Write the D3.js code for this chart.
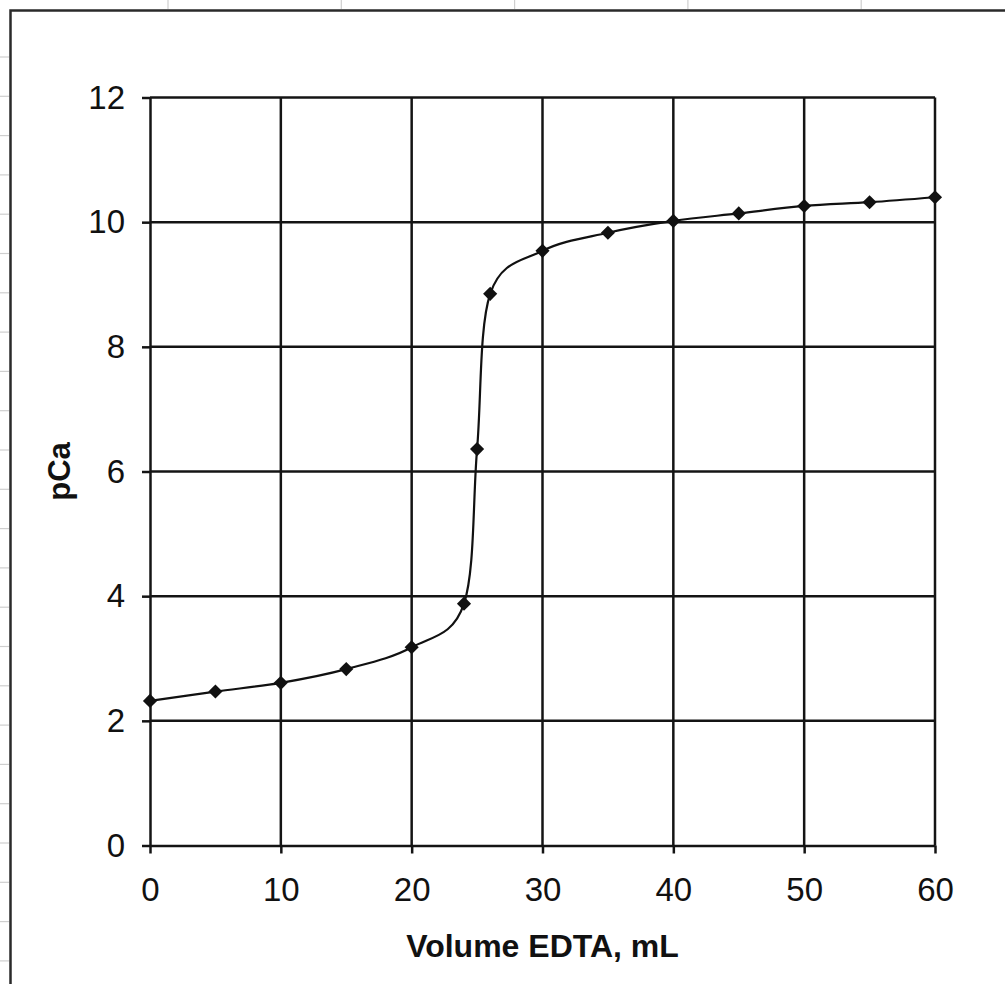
<!DOCTYPE html>
<html>
<head>
<meta charset="utf-8">
<script src="https://cdn.jsdelivr.net/npm/d3@7"></script>
<style>
  html, body { margin: 0; padding: 0; background: #fff; }
  svg { display: block; }
</style>
</head>
<body>
<svg id="chart" width="1005" height="984"></svg>
<script>
// ---- data ----
const volumeEDTA = [0, 5, 10, 15, 20, 24, 25, 26, 30, 35, 40, 45, 50, 55, 60];
const pCaValues  = [2.32, 2.47, 2.61, 2.83, 3.18, 3.88, 6.36, 8.85, 9.54, 9.83, 10.02, 10.14, 10.26, 10.32, 10.40];
const xTickValues = [0, 10, 20, 30, 40, 50, 60];
const yTickValues = [0, 2, 4, 6, 8, 10, 12];
const xTitle = "Volume EDTA, mL";
const yTitle = "pCa";

const W = 1005, H = 984;
const svg = d3.select("#chart");
const font = "'Liberation Sans', Arial, Helvetica, sans-serif";

// ---- spreadsheet background outside the chart ----
const sheet = svg.append("g").attr("stroke", "#cfcfcf").attr("stroke-width", 1.2);
d3.range(0, 6).forEach(i => {
  const x = 168 + i * 173.3;
  sheet.append("line").attr("x1", x).attr("x2", x).attr("y1", 0).attr("y2", 9);
});
d3.range(0, 24).forEach(i => {
  const y = 57 + i * 39.3;
  sheet.append("line").attr("x1", 0).attr("x2", 9).attr("y1", y).attr("y2", y);
});

// chart area border
svg.append("rect")
  .attr("x", 10.5).attr("y", 10.5)
  .attr("width", W + 20).attr("height", H + 20)
  .attr("fill", "#fff")
  .attr("stroke", "#2a2a2a").attr("stroke-width", 2.5);

// ---- scales ----
const plot = { left: 150, right: 935, top: 97.5, bottom: 845.5 };
const x = d3.scaleLinear().domain([0, 60]).range([plot.left, plot.right]);
const y = d3.scaleLinear().domain([0, 12]).range([plot.bottom, plot.top]);

const g = svg.append("g");
const ink = "#141414";
const sw = 2.5;

// gridlines
g.append("g").selectAll("line.h")
  .data(yTickValues.filter(v => v > 0))
  .join("line")
  .attr("x1", plot.left).attr("x2", plot.right)
  .attr("y1", d => y(d)).attr("y2", d => y(d))
  .attr("stroke", ink).attr("stroke-width", sw);
g.append("g").selectAll("line.v")
  .data(xTickValues.filter(v => v > 0))
  .join("line")
  .attr("x1", d => x(d)).attr("x2", d => x(d))
  .attr("y1", plot.top).attr("y2", plot.bottom)
  .attr("stroke", ink).attr("stroke-width", sw);

// axes
const xAxis = d3.axisBottom(x).tickValues(xTickValues).tickSize(8).tickPadding(24).tickSizeOuter(0);
const yAxis = d3.axisLeft(y).tickValues(yTickValues).tickSize(8).tickPadding(17).tickSizeOuter(0);

const gx = g.append("g").attr("transform", `translate(0,${plot.bottom})`).call(xAxis);
const gy = g.append("g").attr("transform", `translate(${plot.left},0)`).call(yAxis);
[gx, gy].forEach(a => {
  a.select(".domain").attr("stroke", ink).attr("stroke-width", sw);
  a.selectAll(".tick line").attr("stroke", ink).attr("stroke-width", sw);
  a.selectAll(".tick text")
    .attr("fill", "#111")
    .style("font-family", font)
    .style("font-size", "33px");
});

// smoothed line
const line = d3.line()
  .x((d, i) => x(volumeEDTA[i]))
  .y(d => y(d))
  .curve(d3.curveCatmullRom.alpha(0));
g.append("path")
  .datum(pCaValues)
  .attr("d", line)
  .attr("fill", "none")
  .attr("stroke", "#111")
  .attr("stroke-width", 2.2);

// diamond markers
const diamond = d3.symbol().type(d3.symbolSquare).size(100);
g.append("g").selectAll("path")
  .data(pCaValues)
  .join("path")
  .attr("d", diamond)
  .attr("transform", (d, i) => `translate(${x(volumeEDTA[i])},${y(d)}) rotate(45)`)
  .attr("fill", "#111");

// axis titles
svg.append("text")
  .attr("x", (plot.left + plot.right) / 2)
  .attr("y", 957)
  .attr("text-anchor", "middle")
  .style("font-family", font)
  .style("font-weight", "bold")
  .style("font-size", "32px")
  .attr("fill", "#111")
  .text(xTitle);

svg.append("text")
  .attr("transform", `translate(70,${(plot.top + plot.bottom) / 2}) rotate(-90)`)
  .attr("text-anchor", "middle")
  .style("font-family", font)
  .style("font-weight", "bold")
  .style("font-size", "31px")
  .attr("fill", "#111")
  .text(yTitle);
</script>
</body>
</html>
